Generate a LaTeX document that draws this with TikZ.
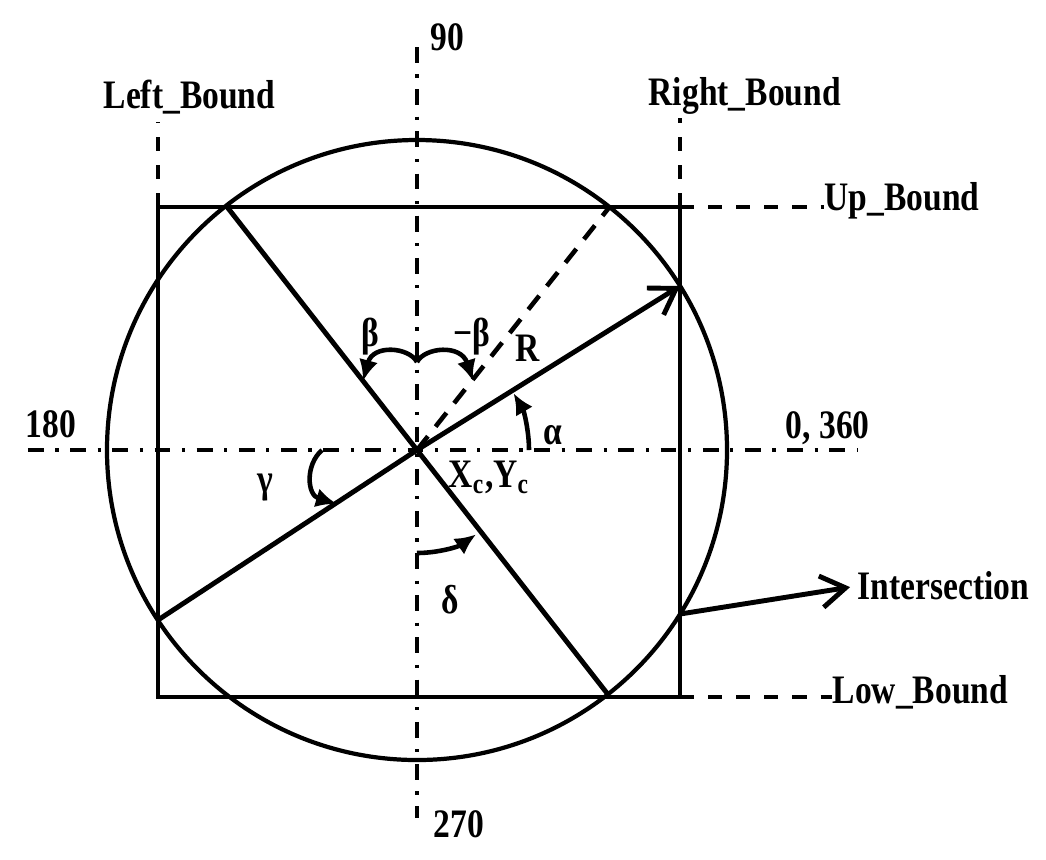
\documentclass[tikz,border=0pt]{standalone}
\usepackage{fontspec}
\setmainfont{Liberation Serif}[FakeStretch=0.83]
\usetikzlibrary{arrows.meta, positioning, calc}

\begin{document}
\begin{tikzpicture}[
  axis/.style={line width=1.2pt, dash pattern=on 4.5pt off 3.3pt on 0.9pt off 3.3pt},
  bound/.style={line width=1.1pt, dash pattern=on 4pt off 4pt},
  heavy/.style={line width=1.4pt},
  lbl/.style={font=\bfseries\fontsize{11.5}{13}\selectfont, inner sep=0pt},
  angarrow/.style={line width=1.3pt, -{Latex[length=6pt,width=5.5pt]}},
  openarrow/.style={-{Straight Barb[length=7pt,width=9pt,line width=1.4pt]}}
]
  \useasboundingbox (-4.17,-4.09) rectangle (6.29,4.50);

  \coordinate (o) at (0,0);
  \coordinate (sqnw) at (-2.59,2.43);
  \coordinate (sqne) at (2.63,2.43);
  \coordinate (sqse) at (2.63,-2.47);
  \coordinate (ur) at (2.63,1.64);
  \coordinate (ll) at (-2.59,-1.70);
  \coordinate (tl) at (128:3.1);
  \coordinate (br) at (308:3.1);
  \coordinate (tr) at (1.925,2.43);
  \coordinate (isec) at (2.63,-1.64);
  \coordinate (ax n) at (0,4.03);
  \coordinate (ax s) at (0,-3.68);
  \coordinate (ax w) at (-3.89,0);
  \coordinate (ax e) at (4.41,0);
  \coordinate (lb top) at (-2.59,3.28);
  \coordinate (rb top) at (2.63,3.32);

  \node[lbl, anchor=base west] (leftb) at (-3.14,3.42) {Left\_Bound};
  \node[lbl, anchor=base west] (rightb) at (2.31,3.45) {Right\_Bound};
  \node[lbl, anchor=base west] (upb) at (4.07,2.40) {Up\_Bound};
  \node[lbl, anchor=base west] (lowb) at (4.15,-2.53) {Low\_Bound};
  \node[lbl, anchor=west] (isl) at (4.40,-1.36) {Intersection};
  \node[lbl, anchor=base west] (deg90) at (0.13,4.00) {90};
  \node[lbl, anchor=base west] (deg270) at (0.16,-3.87) {270};
  \node[lbl, anchor=base west] (deg180) at (-3.92,0.13) {180};
  \node[lbl, anchor=base west] (deg0) at (3.68,0.12) {0, 360};

  \node[lbl] (beta) at (-0.47,1.13) {β};
  \node[lbl] (mbeta) at (0.55,1.13) {−β};
  \node[lbl] (rad) at (1.11,1.02) {R};
  \node[lbl] (alpha) at (1.36,0.15) {α};
  \node[lbl] (gamma) at (-1.52,-0.38) {γ};
  \node[lbl] (delta) at (0.33,-1.50) {δ};
  \node[lbl, anchor=base west] (ctr) at (0.31,-0.37) {X\textsubscript{c},Y\textsubscript{c}};

  \draw[axis] (ax n) -- (ax s);
  \draw[axis] (ax w) -- (ax e);

  \draw[heavy] (sqnw) rectangle (sqse);
  \draw[line width=1.2pt] (o) circle (3.1);

  \draw[bound] (sqnw) -- (lb top);
  \draw[bound] (sqne) -- (rb top);
  \draw[bound] (sqne) -- (sqne -| upb.west);
  \draw[bound] (sqse) -- (sqse -| lowb.west);

  \draw[heavy] (tl) -- (br);
  \draw[heavy, openarrow] (ll) -- (o) -- (ur);
  \draw[bound, line width=1.3pt, dash pattern=on 5pt off 3.5pt] (o) -- (tr);
  \draw[heavy, openarrow, shorten >=2pt] (isec) -- (isl.west);

  \draw[angarrow] (1.12,0) arc[start angle=0, end angle=30.5, radius=1.12];
  \draw[angarrow] (0,0.88) .. controls (-0.08,1.03) and (-0.44,1.06) .. (-0.54,0.69);
  \draw[angarrow] (0,0.88) .. controls (0.08,1.03) and (0.44,1.06) .. (0.56,0.69);
  \draw[angarrow] (-0.95,0) .. controls (-1.12,-0.15) and (-1.10,-0.45) .. (-0.80,-0.54);
  \draw[angarrow] (0,-1.03) arc[start angle=270, end angle=305, radius=1.03];
\end{tikzpicture}
\end{document}
